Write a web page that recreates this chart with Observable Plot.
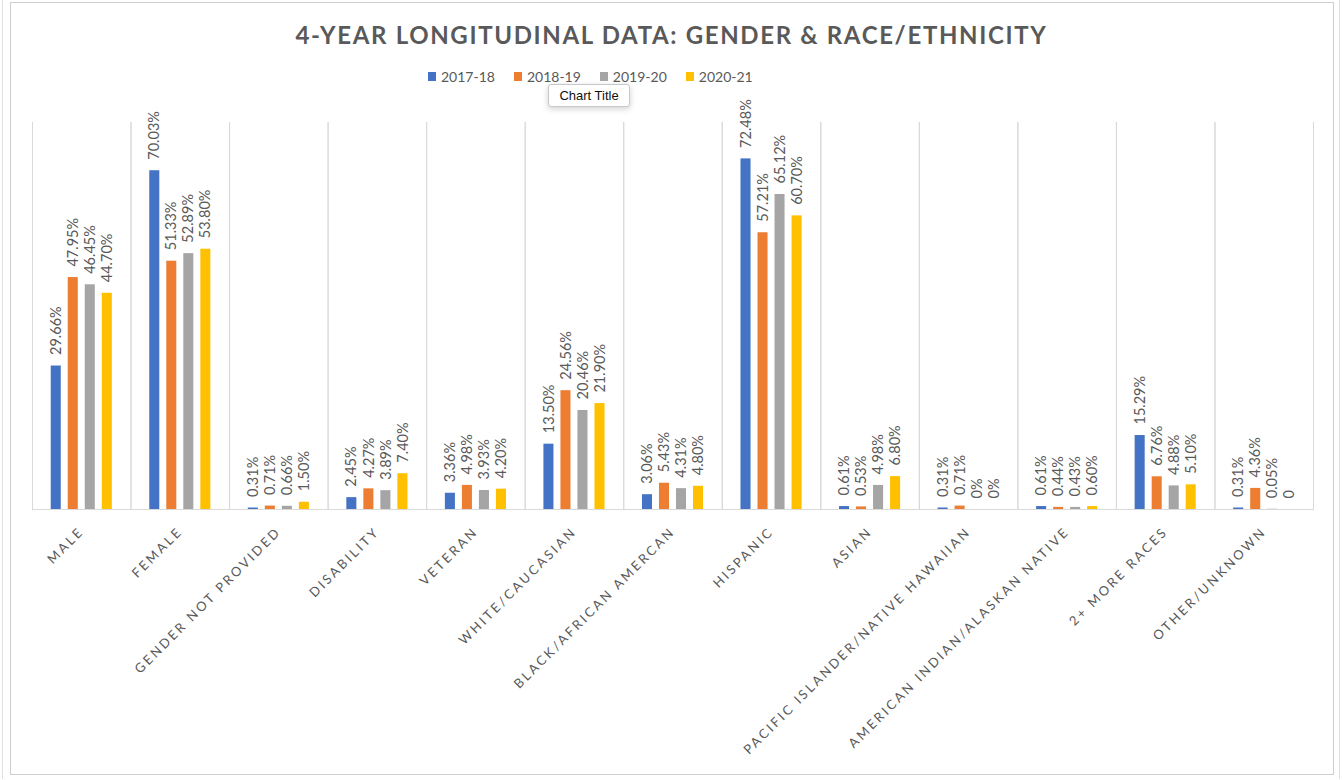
<!DOCTYPE html>
<html>
<head>
<meta charset="utf-8">
<script src="https://cdn.jsdelivr.net/npm/d3@7"></script>
<script src="https://cdn.jsdelivr.net/npm/@observablehq/plot@0.6"></script>
<style>
  html, body { margin: 0; padding: 0; background: #fff; }
  #wrap { position: relative; width: 1343px; height: 780px; overflow: hidden; font-family: Lato, "Open Sans", sans-serif; }
  #border { position: absolute; left: 10px; top: 2px; width: 1324px; height: 773px; border: 1px solid #cfcfcf; box-sizing: border-box; }
  #border2 { position: absolute; left: 2px; top: -2px; width: 1338px; height: 781px; border-left: 1px solid #e0e0e0; border-right: 1px solid #e0e0e0; box-sizing: border-box; }
  #title { position: absolute; left: 0; width: 1343px; top: 20px; text-align: center; font-size: 24px; font-weight: 700; color: #595959; letter-spacing: 1.65px; }
  #legend { position: absolute; left: 428px; top: 68px; display: flex; gap: 19px; font-size: 14px; color: #595959; }
  #legend .item { display: flex; align-items: center; gap: 5px; }
  #legend .sw { width: 8px; height: 9px; display: inline-block; }
  #tip { position: absolute; left: 548px; top: 84px; width: 82px; height: 23px; box-sizing: border-box; background: #fff; border: 1px solid #c8c8c8; border-radius: 3px; box-shadow: 0 2px 6px rgba(0,0,0,0.18); font-family: "Liberation Sans", Arial, sans-serif; font-size: 13px; color: #111; text-align: center; line-height: 21px; }
  #chart { position: absolute; left: 0; top: 0; }
  #chart svg { overflow: visible; }
</style>
</head>
<body>
<div id="wrap">
  <div id="border2"></div>
  <div id="border"></div>
  <div id="chart"></div>
  <div id="title"></div>
  <div id="legend"></div>
  <div id="tip">Chart Title</div>
</div>
<script>
const titleText = "4-YEAR LONGITUDINAL DATA: GENDER & RACE/ETHNICITY";
const categories = [
  "MALE", "FEMALE", "GENDER NOT PROVIDED", "DISABILITY", "VETERAN",
  "WHITE/CAUCASIAN", "BLACK/AFRICAN AMERCAN", "HISPANIC", "ASIAN",
  "PACIFIC ISLANDER/NATIVE HAWAIIAN", "AMERICAN INDIAN/ALASKAN NATIVE",
  "2+ MORE RACES", "OTHER/UNKNOWN"
];
const series = ["2017-18", "2018-19", "2019-20", "2020-21"];
const colors = ["#4472C4", "#ED7D31", "#A5A5A5", "#FFC000"];

const values2017 = [29.66, 70.03, 0.31, 2.45, 3.36, 13.50, 3.06, 72.48, 0.61, 0.31, 0.61, 15.29, 0.31];
const values2018 = [47.95, 51.33, 0.71, 4.27, 4.98, 24.56, 5.43, 57.21, 0.53, 0.71, 0.44, 6.76, 4.36];
const values2019 = [46.45, 52.89, 0.66, 3.89, 3.93, 20.46, 4.31, 65.12, 4.98, 0, 0.43, 4.88, 0.05];
const values2020 = [44.70, 53.80, 1.50, 7.40, 4.20, 21.90, 4.80, 60.70, 6.80, 0, 0.60, 5.10, 0];

const labels2017 = ["29.66%", "70.03%", "0.31%", "2.45%", "3.36%", "13.50%", "3.06%", "72.48%", "0.61%", "0.31%", "0.61%", "15.29%", "0.31%"];
const labels2018 = ["47.95%", "51.33%", "0.71%", "4.27%", "4.98%", "24.56%", "5.43%", "57.21%", "0.53%", "0.71%", "0.44%", "6.76%", "4.36%"];
const labels2019 = ["46.45%", "52.89%", "0.66%", "3.89%", "3.93%", "20.46%", "4.31%", "65.12%", "4.98%", "0%", "0.43%", "4.88%", "0.05%"];
const labels2020 = ["44.70%", "53.80%", "1.50%", "7.40%", "4.20%", "21.90%", "4.80%", "60.70%", "6.80%", "0%", "0.60%", "5.10%", "0"];

const allValues = [values2017, values2018, values2019, values2020];
const allLabels = [labels2017, labels2018, labels2019, labels2020];

const data = [];
categories.forEach((c, i) => {
  series.forEach((s, j) => {
    data.push({category: c, series: s, value: allValues[j][i], label: allLabels[j][i]});
  });
});

document.getElementById("title").textContent = titleText;
const legend = document.getElementById("legend");
series.forEach((s, j) => {
  const it = document.createElement("div");
  it.className = "item";
  const sw = document.createElement("span");
  sw.className = "sw";
  sw.style.background = colors[j];
  const tx = document.createElement("span");
  tx.textContent = s;
  it.appendChild(sw); it.appendChild(tx);
  legend.appendChild(it);
});

const grid = "#d9d9d9";
const chart = Plot.plot({
  width: 1343,
  height: 780,
  marginLeft: 32,
  marginRight: 30,
  marginTop: 122,
  marginBottom: 271,
  style: {fontFamily: "Lato, 'Open Sans', sans-serif", fontSize: "13px", color: "#595959", background: "transparent"},
  fx: {domain: categories, padding: 0, round: false, label: null, tickSize: 0, tickPadding: 20, tickRotate: -45, fontSize: 13.5},
  x: {domain: series, paddingInner: 0.41, paddingOuter: 1.1, round: false, axis: null},
  y: {domain: [0, 80], axis: null},
  color: {domain: series, range: colors},
  marks: [
    Plot.frame({anchor: "left", stroke: grid}),
    Plot.frame({anchor: "right", stroke: grid}),
    Plot.ruleY([0], {stroke: grid}),
    Plot.barY(data, {fx: "category", x: "series", y: "value", fill: "series"}),
    Plot.text(data, {fx: "category", x: "series", y: "value", text: "label", rotate: -90, textAnchor: "start", lineAnchor: "middle", dy: -11, fill: "#595959", fontSize: 14.5})
  ]
});
d3.select(chart).selectAll('g[aria-label="fx-axis tick label"] text').style("letter-spacing", "2.55px");
document.getElementById("chart").appendChild(chart);
</script>
</body>
</html>
